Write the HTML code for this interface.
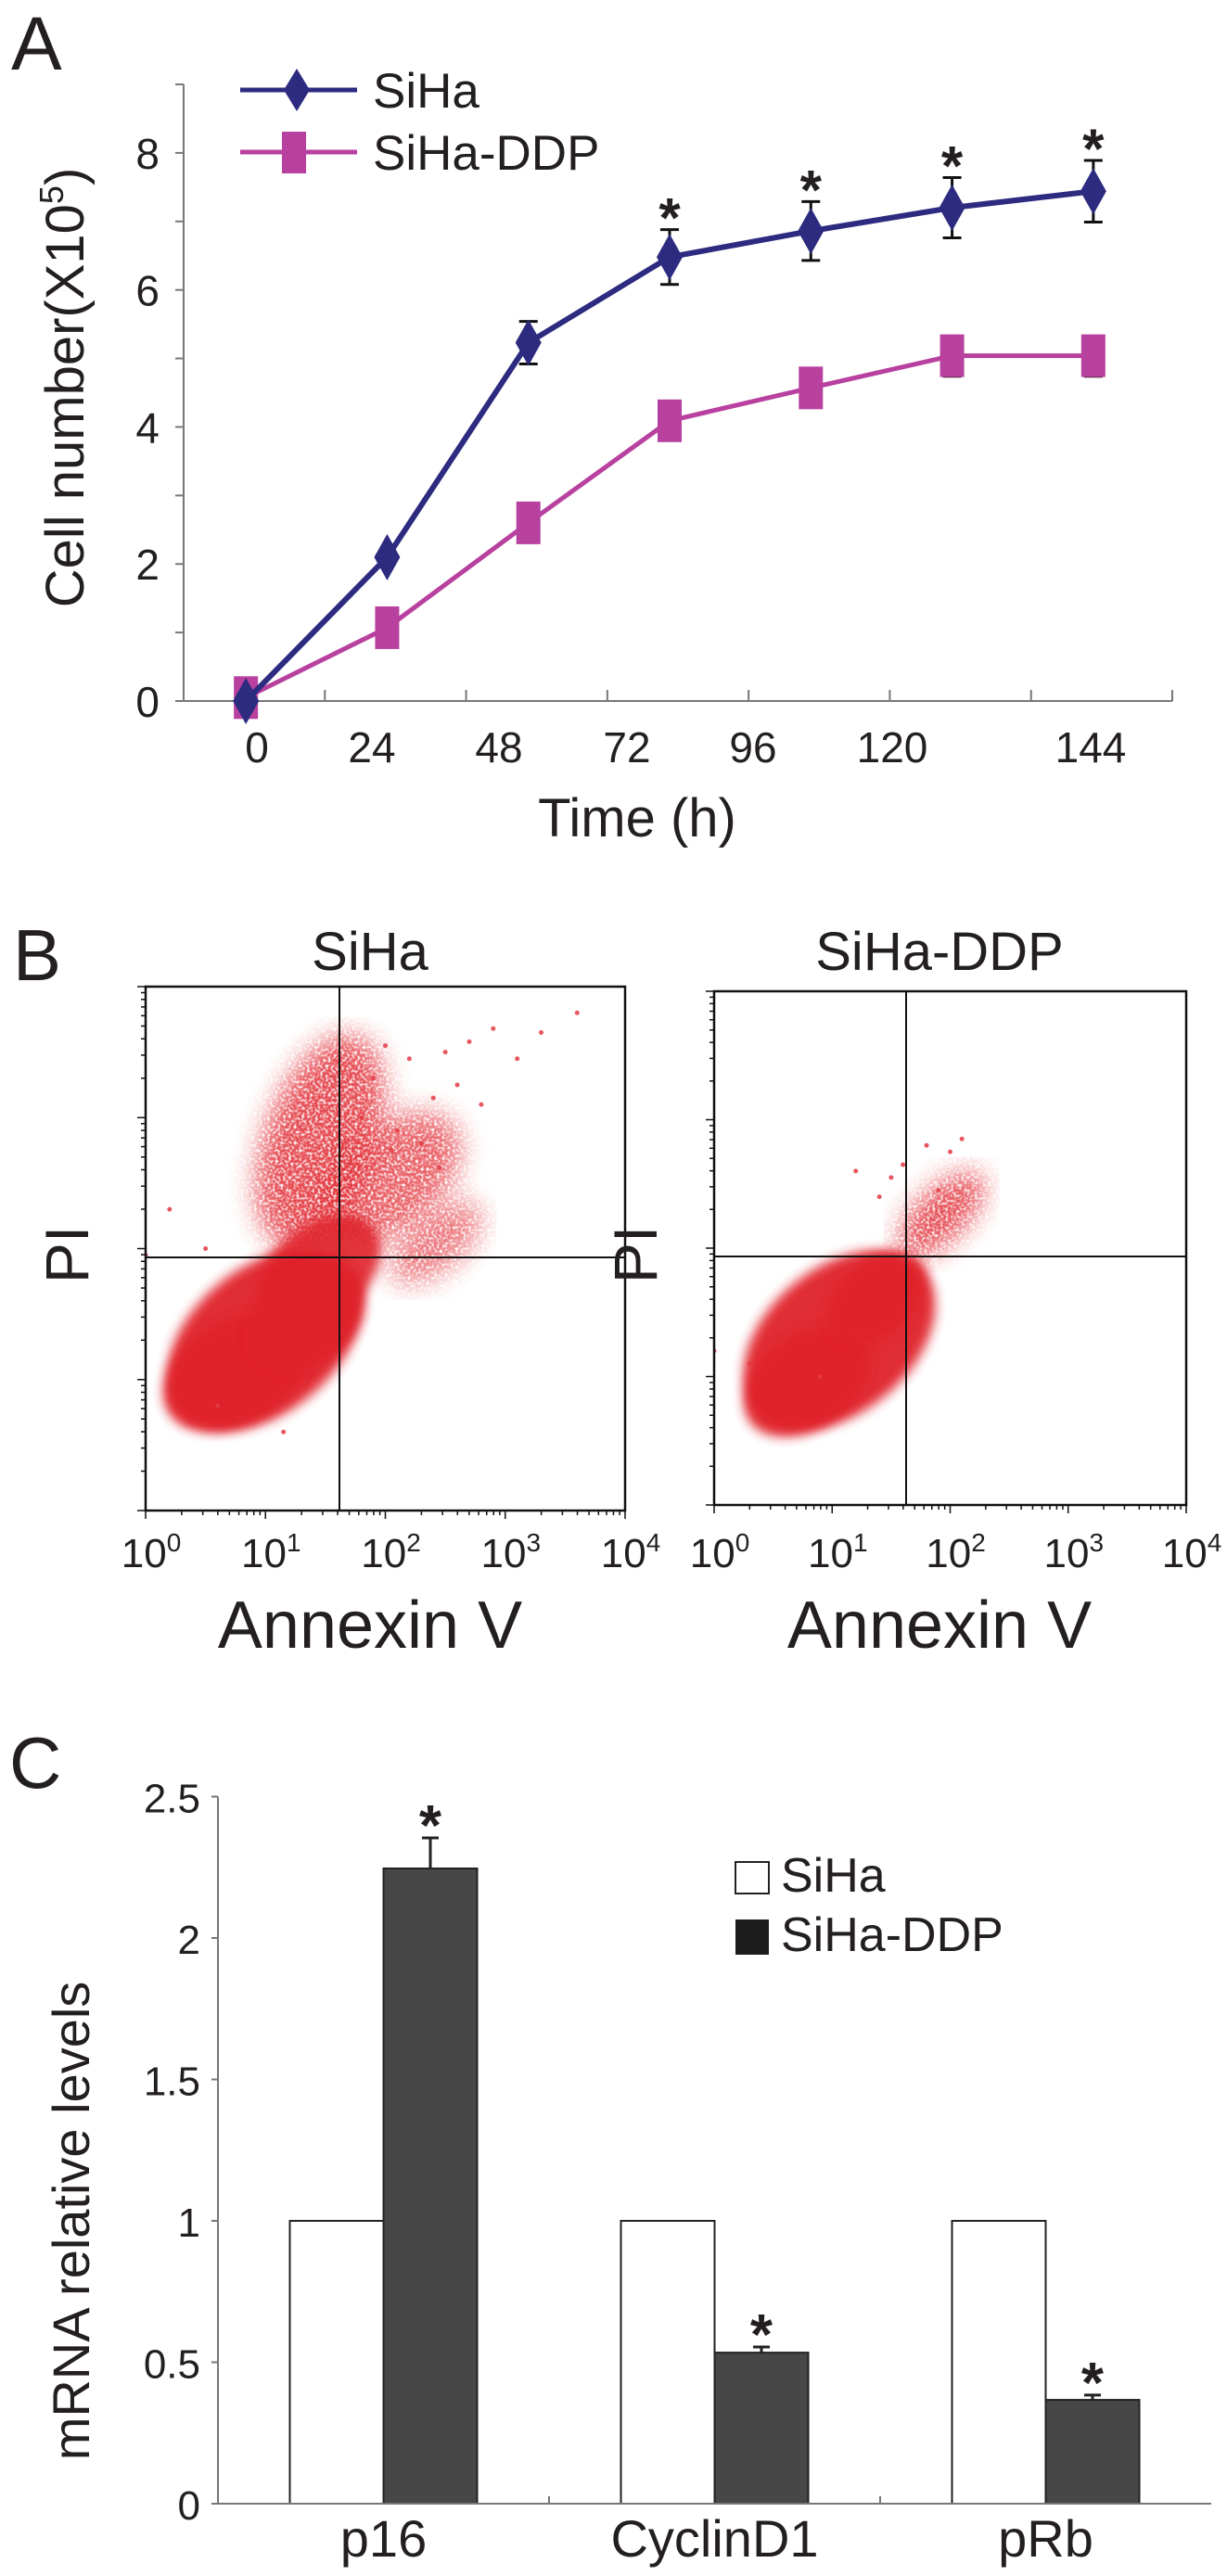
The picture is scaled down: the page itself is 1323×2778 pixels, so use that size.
<!DOCTYPE html>
<html><head><meta charset="utf-8">
<style>
html,body{margin:0;padding:0;background:#fff;}
svg{display:block;}
text{font-family:"Liberation Sans",Arial,sans-serif;fill:#231f20;}
</style></head>
<body>
<svg id="fig" width="1323" height="2778" viewBox="0 0 1323 2778" xmlns="http://www.w3.org/2000/svg">
<defs>
<filter id="blur6" x="-50%" y="-50%" width="200%" height="200%"><feGaussianBlur stdDeviation="6"/></filter>
<filter id="blur14" x="-50%" y="-50%" width="200%" height="200%"><feGaussianBlur stdDeviation="14"/></filter>
<filter id="speckle" x="0" y="0" width="100%" height="100%">
  <feTurbulence type="fractalNoise" baseFrequency="0.35" numOctaves="1" seed="3" result="n"/>
  <feColorMatrix in="n" type="matrix" values="0 0 0 0 1  0 0 0 0 1  0 0 0 0 1  0 0 0 -3 1.7" result="holes"/>
  <feComposite in="SourceGraphic" in2="holes" operator="out"/>
</filter>
<clipPath id="clipL"><rect x="157" y="1064" width="517" height="565"/></clipPath>
<clipPath id="clipR"><rect x="770" y="1069" width="509" height="554"/></clipPath>
</defs>
<g id="panelA"></g>
<g id="panelB"></g>
<g id="panelC"></g>
</svg>
<script>
// ---------- Panel A data ----------
const timeLabels = ["0","24","48","72","96","120","144"];
const sihaValues = [0, 2.1, 5.23, 6.48, 6.86, 7.2, 7.44];
const sihaErrors = [0, 0.05, 0.31, 0.4, 0.43, 0.44, 0.45];
const ddpValues = [0.05, 1.07, 2.6, 4.09, 4.57, 5.04, 5.04];
const ddpErrors = [0, 0, 0, 0, 0, 0.3, 0.3];
const sigStars = [false, false, false, true, true, true, true];
const yTicksA = [0, 2, 4, 6, 8];

// ---------- Panel C data ----------
const genes = ["p16","CyclinD1","pRb"];
const sihaLevels = [1, 1, 1];
const ddpLevels = [2.246, 0.534, 0.367];
const ddpLevelErrors = [0.108, 0.02, 0.017];
const yTicksC = ["0","0.5","1","1.5","2","2.5"];

// ---------- Panel B data (log10 units) ----------
const decadeLabels = ["0","1","2","3","4"];
const sihaOutliersX = [3.6,3.3,2.9,2.7,2.5,2.2,2.0,1.9,2.6,2.4,2.8,1.8,2.3,2.1,3.1,2.45,2.05,1.7,0.2,0.5,-0.0,1.15,0.6];
const sihaOutliersY = [1.8,1.65,1.68,1.58,1.5,1.45,1.55,1.3,1.25,1.15,1.1,1.0,0.8,0.9,1.45,0.62,0.75,0.35,0.3,0.0,-0.05,-1.4,-1.2];
const ddpOutliersX = [2.1,2.0,1.8,1.6,1.5,1.9,1.4,1.2,0.0,0.3,0.9];
const ddpOutliersY = [0.85,0.75,0.8,0.65,0.55,0.45,0.4,0.6,-0.8,-0.9,-1.0];

const NS="http://www.w3.org/2000/svg";
function mk(parent, tag, attrs, txt){
  const e=document.createElementNS(NS,tag);
  for(const k in attrs) e.setAttribute(k, attrs[k]);
  if(txt!==undefined) e.textContent=txt;
  parent.appendChild(e); return e;
}

// ================= PANEL A =================
(function(){
  const g=document.getElementById('panelA');
  const x0=198, x1=1264, yTop=91, yZero=756;
  const yMax=9;
  const nCat=timeLabels.length;
  const catW=(x1-x0)/nCat;
  const xA=i=>x0+catW*(i+0.5)-9;
  const yA=v=>yZero-(v/yMax)*(yZero-yTop);
  const labelX=[277,401,538,676,812,962,1176];

  let t=mk(g,'text',{x:12,y:75,'font-size':82},'A');
   

  let ax=mk(g,'line',{x1:x0,y1:yTop,x2:x0,y2:yZero,stroke:'#777','stroke-width':2});
   
  for(let v=0; v<=yMax; v++){
    const tk=mk(g,'line',{x1:x0-9,y1:yA(v),x2:x0,y2:yA(v),stroke:'#777','stroke-width':2});
     
  }
  yTicksA.forEach(v=>{
    const l=mk(g,'text',{x:172,y:yA(v)+17,'font-size':46,'text-anchor':'end'},String(v));
     
  });
  const xa=mk(g,'line',{x1:x0,y1:yZero,x2:x1,y2:yZero,stroke:'#777','stroke-width':2});
   
  for(let i=0;i<=nCat;i++){
    const tk=mk(g,'line',{x1:x0+catW*i,y1:yZero,x2:x0+catW*i,y2:yZero-12,stroke:'#777','stroke-width':2});
     
  }
  timeLabels.forEach((s,i)=>{
    const l=mk(g,'text',{x:labelX[i],y:822,'font-size':46,'text-anchor':'middle'},s);
     
  });
  const xt=mk(g,'text',{x:687,y:902,'font-size':58,'text-anchor':'middle'},'Time (h)');
   
  const yt=mk(g,'text',{x:0,y:0,'font-size':58,'text-anchor':'middle',transform:'translate(90,418) rotate(-90)'});
   
  yt.appendChild(document.createTextNode('Cell number(X10'));
  mk(yt,'tspan',{'font-size':36,dy:-22},'5');
  mk(yt,'tspan',{dy:22},')');

  const blue='#2c2b80', mag='#b8419f';
  let d=ddpValues.map((v,i)=>(i?'L':'M')+xA(i)+' '+yA(v)).join(' ');
  let pl=mk(g,'path',{d:d,fill:'none',stroke:mag,'stroke-width':5});
   
  ddpValues.forEach((v,i)=>{
    if(ddpErrors[i]>0){
      const e=mk(g,'path',{d:`M${xA(i)} ${yA(v)} V${yA(v-ddpErrors[i])} M${xA(i)-10} ${yA(v-ddpErrors[i])} H${xA(i)+10}`,stroke:'#111','stroke-width':3,fill:'none'});
       
    }
    const m=mk(g,'rect',{x:xA(i)-13,y:yA(v)-23,width:26,height:46,fill:mag});
     
  });
  d=sihaValues.map((v,i)=>(i?'L':'M')+xA(i)+' '+yA(v)).join(' ');
  pl=mk(g,'path',{d:d,fill:'none',stroke:blue,'stroke-width':6});
   
  sihaValues.forEach((v,i)=>{
    if(sihaErrors[i]>0.1){
      const yu=yA(v+sihaErrors[i]), yl=yA(v-sihaErrors[i]);
      const e=mk(g,'path',{d:`M${xA(i)} ${yu} V${yl} M${xA(i)-10} ${yu} H${xA(i)+10} M${xA(i)-10} ${yl} H${xA(i)+10}`,stroke:'#111','stroke-width':3,fill:'none'});
       
    }
    const m=mk(g,'path',{d:`M${xA(i)} ${yA(v)-25} L${xA(i)+14} ${yA(v)} L${xA(i)} ${yA(v)+25} L${xA(i)-14} ${yA(v)} Z`,fill:blue});
     
    if(sigStars[i]){
      const s=mk(g,'text',{x:xA(i),y:yA(v+sihaErrors[i])+8,'font-size':60,'font-weight':'bold','text-anchor':'middle'},'*');
       
    }
  });
  const lg=mk(g,'g',{});
   
  let ll=mk(lg,'line',{x1:259,y1:97,x2:385,y2:97,stroke:blue,'stroke-width':5});
   
  let lm=mk(lg,'path',{d:'M320 74 L334 97 L320 120 L306 97 Z',fill:blue});
   
  let lt=mk(lg,'text',{x:402,y:116,'font-size':53},'SiHa');
   
  ll=mk(lg,'line',{x1:259,y1:164,x2:385,y2:164,stroke:mag,'stroke-width':5});
   
  lm=mk(lg,'rect',{x:304,y:142,width:26,height:45,fill:mag});
   
  lt=mk(lg,'text',{x:402,y:183,'font-size':53},'SiHa-DDP');
   
})();

// ================= PANEL B =================
(function(){
  const g=document.getElementById('panelB');
  const t=mk(g,'text',{x:14,y:1057,'font-size':78},'B');
   

  function plot(name,bx,by,bw,bh,vx,hy,titleX,title,clip,blobs,ox,oy){
    const pg=mk(g,'g',{});
     
    const decW=bw/4;
    const lx=v=>bx+v*decW;
    const ly=v=>by+bh/2 - v*(bh/4);
    const tt=mk(pg,'text',{x:titleX,y:1046,'font-size':58,'text-anchor':'middle'},title);
     
    const sg=mk(pg,'g',{'clip-path':`url(#${clip})`});
     
    const sparse=mk(sg,'g',{filter:'url(#speckle)'});
    const dense=mk(sg,'g',{});
    blobs.forEach(b=>{
      const e=mk(b[7]?sparse:dense,'ellipse',{cx:b[0],cy:b[1],rx:b[2],ry:b[3],transform:`rotate(${b[4]} ${b[0]} ${b[1]})`,fill:'#e0232b',opacity:b[5],filter:b[6]});
       
    });
    ox.forEach((v,i)=>{
      const c=mk(sg,'circle',{cx:lx(v),cy:ly(oy[i]),r:2.5,fill:'#e33a44',opacity:0.85});
       
    });
    const fr=mk(pg,'rect',{x:bx,y:by,width:bw,height:bh,fill:'none',stroke:'#111','stroke-width':2.5});
     
    const vq=mk(pg,'line',{x1:vx,y1:by,x2:vx,y2:by+bh,stroke:'#111','stroke-width':2});
     
    const hq=mk(pg,'line',{x1:bx,y1:hy,x2:bx+bw,y2:hy,stroke:'#111','stroke-width':2});
     
    let tp='';
    for(let dec=0;dec<4;dec++){
      for(let m=1;m<10;m++){
        const f=dec+Math.log10(m); const len=m===1?9:5;
        const x=bx+f*decW; tp+=`M${x} ${by+bh} V${by+bh+len} `;
        const y=by+bh-f*(bh/4); tp+=`M${bx} ${y} H${bx-len} `;
      }
    }
    tp+=`M${bx+bw} ${by+bh} V${by+bh+9} M${bx} ${by} H${bx-9}`;
    const tk=mk(pg,'path',{d:tp,stroke:'#111','stroke-width':1.5,fill:'none'});
     
    decadeLabels.forEach((s,i)=>{
      const l=mk(pg,'text',{x:lx(+s)+6,y:1690,'font-size':44,'text-anchor':'middle'});
       
      l.appendChild(document.createTextNode('10'));
      mk(l,'tspan',{'font-size':28,dy:-17},s);
    });
    const xt=mk(pg,'text',{x:titleX,y:1777,'font-size':72,'text-anchor':'middle'},'Annexin V');
     
    const yt=mk(pg,'text',{x:0,y:0,'font-size':66,'text-anchor':'middle',transform:`translate(${bx-62},1353) rotate(-90)`},'PI');
     
  }
  plot('plot-siha',157,1064,517,565,366,1356,399,'SiHa','clipL',[
    [345,1230,60,120,20,0.8,'url(#blur14)',1],
    [420,1270,90,55,-40,0.7,'url(#blur14)',1],
    [470,1340,60,30,-40,0.6,'url(#blur14)',1],
    [345,1370,75,50,-40,0.9,'url(#blur6)',0],
    [285,1445,120,78,-40,0.95,'url(#blur6)',0],
    [255,1480,85,55,-30,0.95,'url(#blur6)',0],
    [330,1420,70,50,-40,0.95,'url(#blur6)',0],
  ],sihaOutliersX,sihaOutliersY);
  plot('plot-siha-ddp',770,1069,509,554,977,1355,1013,'SiHa-DDP','clipR',[
    [1015,1310,60,28,-45,0.8,'url(#blur14)',1],
    [905,1445,118,78,-40,0.95,'url(#blur6)',0],
    [870,1490,75,50,-35,0.95,'url(#blur6)',0],
    [945,1400,60,40,-40,0.9,'url(#blur6)',0],
  ],ddpOutliersX,ddpOutliersY);
})();

// ================= PANEL C =================
(function(){
  const g=document.getElementById('panelC');
  const x0=235, x1=1306, yZero=2700, perUnit=305;
  const nCat=genes.length, catW=(x1-x0)/nCat, barW=101;
  const yC=v=>yZero-v*perUnit;
  const cx=i=>x0+catW*(i+0.5);

  const t=mk(g,'text',{x:10,y:1928,'font-size':78},'C');
   
  const ya=mk(g,'line',{x1:x0,y1:yC(2.5),x2:x0,y2:yZero,stroke:'#777','stroke-width':2});
   
  yTicksC.forEach(s=>{
    const v=parseFloat(s);
    const tk=mk(g,'line',{x1:x0-7,y1:yC(v),x2:x0,y2:yC(v),stroke:'#777','stroke-width':2});
     
    const l=mk(g,'text',{x:216,y:yC(v)+17,'font-size':44,'text-anchor':'end'},s);
     
  });
  const yt=mk(g,'text',{x:0,y:0,'font-size':56,'text-anchor':'middle',transform:'translate(96,2395) rotate(-90)'},'mRNA relative levels');
   

  genes.forEach((s,i)=>{
    const b1=mk(g,'rect',{x:cx(i)-barW,y:yC(sihaLevels[i]),width:barW,height:sihaLevels[i]*perUnit,fill:'#fff',stroke:'#222','stroke-width':2});
     
    const b2=mk(g,'rect',{x:cx(i),y:yC(ddpLevels[i]),width:barW,height:ddpLevels[i]*perUnit,fill:'#474747',stroke:'#222','stroke-width':2});
     
    const top=yC(ddpLevels[i]+ddpLevelErrors[i]);
    const e=mk(g,'path',{d:`M${cx(i)+barW/2} ${yC(ddpLevels[i])} V${top} M${cx(i)+barW/2-9} ${top} H${cx(i)+barW/2+9}`,stroke:'#222','stroke-width':3,fill:'none'});
     
    const st=mk(g,'text',{x:cx(i)+barW/2,y:top+8,'font-size':62,'font-weight':'bold','text-anchor':'middle'},'*');
     
    const l=mk(g,'text',{x:cx(i),y:2757,'font-size':56,'text-anchor':'middle'},s);
     
  });
  const xa=mk(g,'line',{x1:x0,y1:yZero,x2:x1,y2:yZero,stroke:'#777','stroke-width':2});
   
  for(let i=1;i<nCat;i++){
    const tk=mk(g,'line',{x1:x0+catW*i,y1:yZero,x2:x0+catW*i,y2:yZero-8,stroke:'#777','stroke-width':2});
     
  }
  const lg=mk(g,'g',{});
   
  let r=mk(lg,'rect',{x:793,y:2008,width:36,height:34,fill:'#fff',stroke:'#222','stroke-width':2});
   
  let lt=mk(lg,'text',{x:842,y:2040,'font-size':52},'SiHa');
   
  r=mk(lg,'rect',{x:793,y:2070,width:36,height:38,fill:'#1c1c1c'});
   
  lt=mk(lg,'text',{x:842,y:2104,'font-size':52},'SiHa-DDP');
   
})();
</script>
</body></html>
